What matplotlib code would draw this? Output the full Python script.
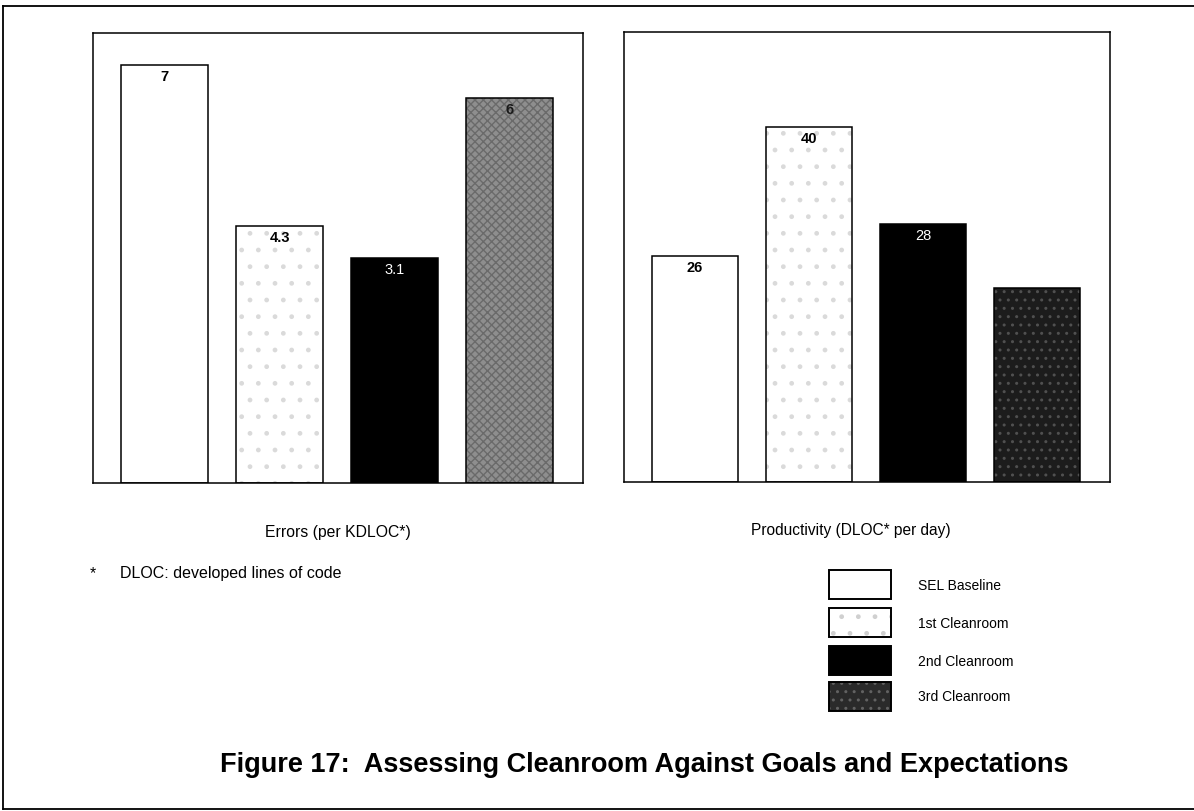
import matplotlib
matplotlib.use("Agg")
import matplotlib.pyplot as plt
from matplotlib.patches import Rectangle
from matplotlib.lines import Line2D

plt.rcParams['font.family'] = ['Liberation Sans', 'DejaVu Sans']

# data
categories = ['SEL Baseline', '1st Cleanroom', '2nd Cleanroom', '3rd Cleanroom']
errors = [7.0, 4.3, 3.77, 6.45]            # bar heights as drawn
error_labels = ['7', '4.3', '3.1', '6']
productivity = [25.5, 40.0, 29.1, 21.9]    # bar heights as drawn
prod_labels = ['26', '40', '28', '']

W, H = 1194, 812


def fx(x):
    return x / W


def fy(y):
    return 1 - y / H


def draw_bar(ax, x, h, style, width=0.755):
    face, hatch, hcolor = style
    if hatch:
        ax.bar(x, h, width, color=face, hatch=hatch, edgecolor=hcolor, linewidth=0, zorder=2)
    else:
        ax.bar(x, h, width, color=face, linewidth=0, zorder=2)
    ax.bar(x, h, width, fill=False, edgecolor='black', linewidth=1.1, zorder=3)


left_styles = [('white', None, None),
               ('white', '.', '#dadada'),
               ('black', None, None),
               ('#8e8e8e', 'xxxx', '#6a6a6a')]
right_styles = [('white', None, None),
                ('white', '.', '#dadada'),
                ('black', None, None),
                ('#1c1c1c', '..', '#505050')]
label_colors = ['black', 'black', 'white', '#1a1a1a']
label_bold = [True, True, False, True]

fig = plt.figure(figsize=(W / 100, H / 100), dpi=100)

# outer frame (open on the right)
for xs, ys in [((3, W), (7, 7)), ((3, 3), (7, 810)), ((3, W), (810, 810))]:
    fig.add_artist(Line2D([fx(v) for v in xs], [fy(v) for v in ys],
                          transform=fig.transFigure, color='black', lw=1.3))

ax1 = fig.add_axes([fx(93), fy(484), fx(583) - fx(93), fy(34) - fy(484)])
ax2 = fig.add_axes([fx(624), fy(483), fx(1110) - fx(624), fy(33) - fy(483)])

panels = [(ax1, errors, error_labels, left_styles, 7.536),
          (ax2, productivity, prod_labels, right_styles, 50.7)]

for ax, vals, labs, styles, ytop in panels:
    for i, v in enumerate(vals):
        draw_bar(ax, i, v, styles[i])
        if labs[i]:
            ax.annotate(labs[i], (i, v), xytext=(0, -8), textcoords='offset points',
                        ha='center', va='center', fontsize=10.5,
                        fontweight='bold' if label_bold[i] else 'normal',
                        color=label_colors[i], zorder=4)
    ax.set_xlim(-0.622, 3.639)
    ax.set_ylim(0, ytop)
    ax.set_xticks([])
    ax.set_yticks([])
    for s in ax.spines.values():
        s.set_linewidth(1.1)

fig.text(fx(338), fy(533), 'Errors (per KDLOC*)', ha='center', va='center', fontsize=11.3)
fig.text(fx(851), fy(531), 'Productivity (DLOC* per day)', ha='center', va='center', fontsize=11.2)
fig.text(fx(93), fy(574), '*', ha='center', va='center', fontsize=11.3)
fig.text(fx(120), fy(574), 'DLOC: developed lines of code', ha='left', va='center', fontsize=11.5)

# legend drawn by hand
leg_top = [571, 609, 647, 683]
leg_styles = [('white', None, None),
              ('white', '.', '#d0d0d0'),
              ('black', None, None),
              ('#2a2a2a', '..', '#626262')]
for i, name in enumerate(categories):
    face, hatch, hcolor = leg_styles[i]
    y0, y1 = leg_top[i], leg_top[i] + 29
    box = [fx(829), fy(y1)]
    bw, bh = fx(891) - fx(829), fy(y0) - fy(y1)
    if hatch:
        fig.add_artist(Rectangle(box, bw, bh, transform=fig.transFigure, facecolor=face,
                                 hatch=hatch, edgecolor=hcolor, linewidth=0))
    else:
        fig.add_artist(Rectangle(box, bw, bh, transform=fig.transFigure, facecolor=face,
                                 linewidth=0))
    fig.add_artist(Rectangle(box, bw, bh, transform=fig.transFigure, fill=False,
                             edgecolor='black', linewidth=1.4))
    fig.text(fx(918), fy((y0 + y1) / 2), name, ha='left', va='center', fontsize=10,
             family=['Liberation Sans Narrow', 'Liberation Sans'])

fig.text(fx(644), fy(765), 'Figure 17:  Assessing Cleanroom Against Goals and Expectations',
         ha='center', va='center', fontsize=19.5, fontweight='bold')

fig.savefig('out.png', dpi=100)
